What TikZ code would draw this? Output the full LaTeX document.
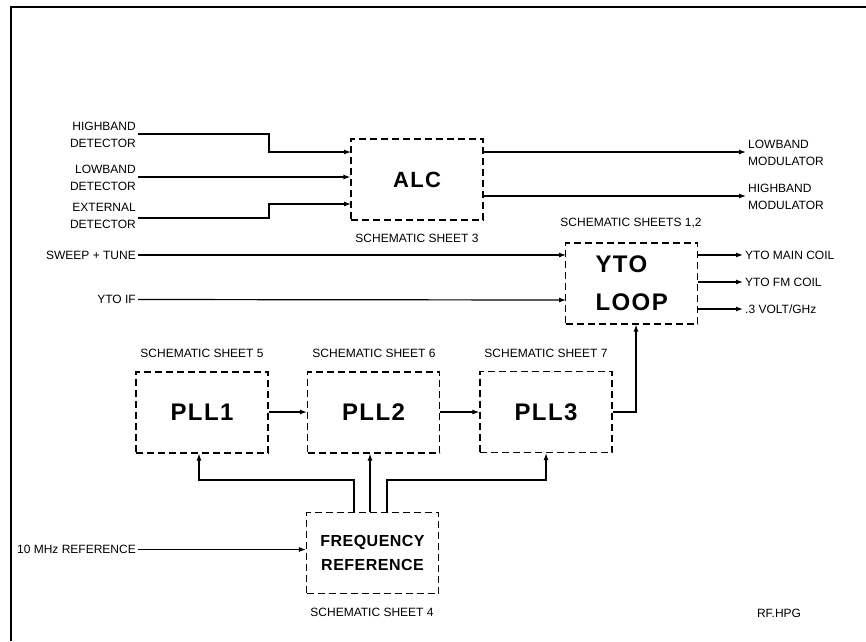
\documentclass[tikz,border=0pt]{standalone}
\usepackage{fontspec}
\setmainfont{Liberation Sans}
\newfontfamily\boxfont[LetterSpace=6]{Liberation Sans}
\newfontfamily\frfont[LetterSpace=3]{Liberation Sans}
\usetikzlibrary{arrows.meta}
\tikzset{
  blk/.style={draw, line width=1.1pt, dash pattern=on 7pt off 4pt, minimum width=132pt, minimum height=81pt, inner sep=0pt, font=\boxfont\bfseries\fontsize{24}{30}\selectfont, align=center},
  lbl/.style={inner sep=2pt, font=\fontsize{12}{17}\selectfont},
  arr/.style={line width=1.2pt, -{Latex[length=7pt,width=5pt]}},
  wire/.style={line width=1.2pt}
}
\begin{document}
\begin{tikzpicture}[x=1pt,y=-1pt]
\useasboundingbox (0,0) rectangle (866,641);
% frame
\draw[line width=2pt] (11,641) -- (11,7) -- (866,7);

% blocks
\node[blk, font=\boxfont\bfseries\fontsize{22}{30}\selectfont] (alc) at (417,179.5) {ALC};
\node[blk, font=\boxfont\bfseries\fontsize{24}{38}\selectfont, text width=72pt, align=left] (yto) at (631.5,283.5) {YTO\\LOOP};
\node[blk] (pll1) at (202,412.5) {PLL1};
\node[blk] (pll2) at (373.5,412.5) {PLL2};
\node[blk] (pll3) at (546,412) {PLL3};
\node[blk, font=\frfont\bfseries\fontsize{16}{24}\selectfont] (fr) at (372.5,553) {FREQUENCY\\REFERENCE};

% sheet labels
\node[lbl] (s3) at (417,238) {SCHEMATIC SHEET 3};
\node[lbl] (s12) at (631,223) {SCHEMATIC SHEETS 1,2};
\node[lbl] (s5) at (202,353) {SCHEMATIC SHEET 5};
\node[lbl] (s6) at (374,353) {SCHEMATIC SHEET 6};
\node[lbl] (s7) at (546,353) {SCHEMATIC SHEET 7};
\node[lbl] (s4) at (372,612) {SCHEMATIC SHEET 4};
\node[lbl] (rf) at (779,613) {RF.HPG};

% inputs
\node[lbl, anchor=east, align=right] (hb) at (138,134.5) {HIGHBAND\\DETECTOR};
\node[lbl, anchor=east, align=right] (lb) at (138,177.5) {LOWBAND\\DETECTOR};
\node[lbl, anchor=east, align=right] (ext) at (138,216) {EXTERNAL\\DETECTOR};
\node[lbl, anchor=east] (sw) at (138,255) {SWEEP + TUNE};
\node[lbl, anchor=east] (yif) at (138,299.5) {YTO IF};
\node[lbl, anchor=east] (ten) at (138,549.5) {10 MHz REFERENCE};

\coordinate (a1) at (351,152);
\coordinate (a3) at (351,204);
\draw[arr] (hb.east |- 0,134) -- (269,134) |- (a1);
\draw[arr] (lb.east |- 0,177) -- (alc.west |- 0,177);
\draw[arr] (ext.east |- 0,218) -- (269,218) |- (a3);
\coordinate (y1) at (566,255);
\coordinate (y2) at (566,300);
\draw[arr] (sw.east) -- (y1);
\draw[arr] (yif.east) -- (y2);
\draw[arr] (ten.east) -- (fr.west |- ten.east);

% outputs
\node[lbl, anchor=west, align=left] (lm) at (746,152.5) {LOWBAND\\MODULATOR};
\node[lbl, anchor=west, align=left] (hm) at (746,197) {HIGHBAND\\MODULATOR};
\draw[arr] (alc.east |- 0,152) -- (lm.west |- 0,152);
\draw[arr] (alc.east |- 0,196) -- (hm.west |- 0,196);

\node[lbl, anchor=west] (mc) at (743,255) {YTO MAIN COIL};
\node[lbl, anchor=west] (fm) at (743,282) {YTO FM COIL};
\node[lbl, anchor=west] (vg) at (743,309) {.3 VOLT/GHz};
\draw[arr] (yto.east |- mc.west) -- (mc.west);
\draw[arr] (yto.east |- fm.west) -- (fm.west);
\draw[arr] (yto.east |- vg.west) -- (vg.west);

% PLL chain
\draw[arr] (pll1.east |- 0,412) -- (pll2.west |- 0,412);
\draw[arr] (pll2.east |- 0,412) -- (pll3.west |- 0,412);
\draw[arr] (pll3.east |- 0,412) -| ([xshift=4.5pt]yto.south);

% reference distribution
\draw[arr] ([xshift=-18.5pt]fr.north) -- ++(0,-32) -| ([xshift=-3pt]pll1.south);
\draw[arr] ([xshift=-2.5pt]fr.north) -- ([xshift=-3.5pt]pll2.south);
\draw[arr] ([xshift=14.5pt]fr.north) -- ++(0,-32) -| (pll3.south);
\end{tikzpicture}
\end{document}
